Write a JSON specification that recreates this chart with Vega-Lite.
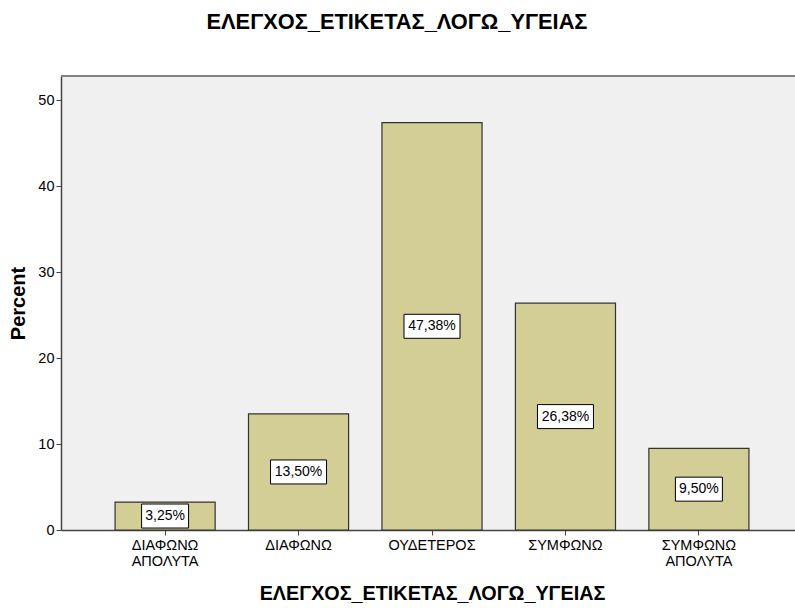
{
  "$schema": "https://vega.github.io/schema/vega-lite/v6.json",
  "width": 734,
  "height": 454,
  "autosize": {"type": "none"},
  "padding": {"left": 61, "top": 76, "right": 0, "bottom": 78},
  "background": "white",
  "title": {
    "text": "ΕΛΕΓΧΟΣ_ΕΤΙΚΕΤΑΣ_ΛΟΓΩ_ΥΓΕΙΑΣ",
    "font": "Liberation Sans",
    "fontSize": 21.8,
    "fontWeight": "bold",
    "color": "#000000",
    "anchor": "middle",
    "dx": -31,
    "offset": 41
  },
  "data": {
    "values": [
      {"cat": "ΔΙΑΦΩΝΩ ΑΠΟΛΥΤΑ", "pct": 3.25, "label": "3,25%"},
      {"cat": "ΔΙΑΦΩΝΩ", "pct": 13.5, "label": "13,50%"},
      {"cat": "ΟΥΔΕΤΕΡΟΣ", "pct": 47.38, "label": "47,38%"},
      {"cat": "ΣΥΜΦΩΝΩ", "pct": 26.38, "label": "26,38%"},
      {"cat": "ΣΥΜΦΩΝΩ ΑΠΟΛΥΤΑ", "pct": 9.5, "label": "9,50%"}
    ]
  },
  "layer": [
    {
      "mark": {"type": "rule", "color": "#808080", "strokeWidth": 2},
      "encoding": {
        "y": {"datum": 52.8, "type": "quantitative", "scale": {"domain": [0, 52.8], "nice": false}, "axis": null}
      }
    },
    {
      "mark": {"type": "bar", "fill": "#D2CE96", "stroke": "#333333", "strokeWidth": 1.2},
      "encoding": {
        "x": {
          "field": "cat",
          "type": "nominal",
          "sort": null,
          "scale": {"range": [0, 742], "paddingInner": 0.25, "paddingOuter": 0.405},
          "axis": {
            "title": "ΕΛΕΓΧΟΣ_ΕΤΙΚΕΤΑΣ_ΛΟΓΩ_ΥΓΕΙΑΣ",
            "titleFont": "Liberation Sans",
            "titleFontSize": 19.8,
            "titleFontWeight": "bold",
            "titleColor": "#000000",
            "titleX": 371,
            "titleY": 63,
            "titleAlign": "center",
            "titleBaseline": "middle",
            "labelExpr": "split(datum.label, ' ')",
            "labelAngle": 0,
            "labelFont": "Liberation Sans",
            "labelFontSize": 14.5,
            "labelColor": "#000000",
            "labelLineHeight": 16,
            "labelPadding": 3,
            "tickSize": 5,
            "tickColor": "#444444",
            "domainColor": "#444444",
            "domainWidth": 1.5,
            "grid": false
          }
        },
        "y": {
          "field": "pct",
          "type": "quantitative",
          "scale": {"domain": [0, 52.8], "nice": false},
          "axis": {
            "title": "Percent",
            "titleFont": "Liberation Sans",
            "titleFontSize": 20,
            "titleFontWeight": "bold",
            "titleColor": "#000000",
            "titleX": -43,
            "titleY": 227,
            "titleAngle": -90,
            "titleAlign": "center",
            "titleBaseline": "middle",
            "values": [0, 10, 20, 30, 40, 50],
            "labelFont": "Liberation Sans",
            "labelFontSize": 14.5,
            "labelColor": "#000000",
            "labelPadding": 2,
            "tickSize": 5,
            "tickColor": "#444444",
            "domainColor": "#444444",
            "domainWidth": 1.5,
            "grid": false
          }
        }
      }
    },
    {
      "transform": [{"filter": "datum.pct >= 10"}],
      "mark": {"type": "point", "shape": "M-1,-0.4286H1V0.4286H-1Z", "size": 3136, "filled": true, "fill": "white", "stroke": "#000000", "strokeWidth": 1, "opacity": 1, "fillOpacity": 1},
      "encoding": {
        "x": {"field": "cat", "type": "nominal", "sort": null, "scale": {"range": [0, 742], "paddingInner": 0.25, "paddingOuter": 0.405}},
        "y": {"field": "pct", "type": "quantitative", "scale": {"domain": [0, 105.6], "nice": false}, "axis": null}
      }
    },
    {
      "transform": [{"filter": "datum.pct < 10"}],
      "mark": {"type": "point", "shape": "M-1,-0.5106H1V0.5106H-1Z", "size": 2209, "filled": true, "fill": "white", "stroke": "#000000", "strokeWidth": 1, "opacity": 1, "fillOpacity": 1},
      "encoding": {
        "x": {"field": "cat", "type": "nominal", "sort": null, "scale": {"range": [0, 742], "paddingInner": 0.25, "paddingOuter": 0.405}},
        "y": {"field": "pct", "type": "quantitative", "scale": {"domain": [0, 105.6], "nice": false}, "axis": null}
      }
    },
    {
      "mark": {"type": "text", "font": "Liberation Sans", "fontSize": 14, "color": "#000000", "baseline": "middle", "align": "center"},
      "encoding": {
        "x": {"field": "cat", "type": "nominal", "sort": null, "scale": {"range": [0, 742], "paddingInner": 0.25, "paddingOuter": 0.405}},
        "y": {"field": "pct", "type": "quantitative", "scale": {"domain": [0, 105.6], "nice": false}, "axis": null},
        "text": {"field": "label"}
      }
    }
  ],
  "resolve": {"scale": {"y": "independent"}},
  "config": {
    "view": {"fill": "#F0F0F0", "stroke": null}
  }
}
